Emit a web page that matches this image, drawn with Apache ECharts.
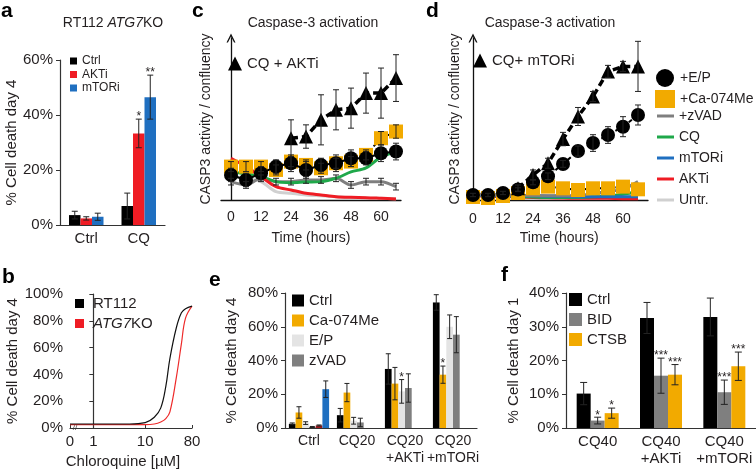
<!DOCTYPE html>
<html><head><meta charset="utf-8">
<script src="https://cdn.jsdelivr.net/npm/echarts@6/dist/echarts.min.js"></script>
<style>html,body{margin:0;padding:0;background:#fff}#c{width:756px;height:473px}</style>
</head><body><div id="c"></div>
<script>
// ---------- Panel a ----------
const aCategories = ['Ctrl', 'CQ'];
const aCtrl = [3.6, 6.9];
const aCtrlErr = [1.4, 4.7];
const aAKTi = [2.4, 33.3];
const aAKTiErr = [0.6, 5.2];
const aMTORi = [3.0, 46.5];
const aMTORiErr = [1.3, 8.0];
const aAKTiStars = ['', '*'];
const aMTORiStars = ['', '**'];

// ---------- Panel b ----------
const bConc = [0, 1, 5, 10, 15, 20, 25, 30, 40, 50, 60, 80];
const bRT112 = [3, 3, 3, 4, 8, 15, 31, 52, 75, 86, 89, 91];
const bATG7KO = [2.5, 2.5, 2.5, 2.5, 3, 4.5, 7, 12, 38, 63, 82, 91];
const bTickConc = [0, 1, 10, 80];
const bTickLabels = ['0', '1', '10', '80'];

// ---------- Panel c ----------
const cdTimes = [0, 6, 12, 18, 24, 30, 36, 42, 48, 54, 60, 66];
const cTickHours = [0, 12, 24, 36, 48, 60];
const cTri = [null, null, null, null, 37, 38, 48, 54, 55, 64, 64, 73];
const cTriErr = [0, 0, 0, 0, 11, 7, 15, 12, 12, 12, 15, 14];
const cEP = [15, 12, 16, 20, 22, 18, 21, 22, 25, 25, 28, 29];
const cEPErr = [4, 4, 4, 4, 5, 5, 4, 5, 5, 4, 5, 5];
const cCa = [20, 20, 20, 18, 23, 21, 19, 22, 23, 27, 37, 41];
const cCaErr = [3, 3, 3, 3, 3, 3, 3, 3, 3, 3, 4, 4];
const cZVAD = [11, 9, 13, 11, 11, 12, 12, 13, 9, 11, 11, 8];
const cZVADErr = [2, 2, 2, 2, 2, 2, 2, 2, 2, 2, 2, 2];
const cCQ = [17, 15.6, 14, 11, 10.4, 10.8, 11, 13, 16.8, 19.2, 25.7, 28.7];
const cAKTi = [25, 20, 14, 8, 6, 4, 3, 2, 1.6, 1.4, 1, 0.6];
const cUntr = [14, 13, 11, 5, 4, 3, 2.5, 2, 1.5, 1.2, 1, 0.8];

// ---------- Panel d ----------
const dTri = [null, null, null, 7, 15, 22, 36.5, 50, 62, 77, 80, 80];
const dTriErr = [0, 0, 0, 2, 3, 3, 4, 5.4, 3, 3.6, 3, 15];
const dEP = [3, 3, 4.2, 6.3, 10.6, 14.2, 21.6, 29.3, 34.1, 38.9, 43.9, 50.9];
const dEPErr = [1, 1, 1, 1, 1.5, 2, 2, 3, 5, 5, 6, 6];
const dCa = [1.8, 1.2, 2.4, 4.2, 7, 8, 7, 6, 7, 7, 8, 6.4];
const dZVAD = [3.5, 3.5, 3, 3, 2.5, 2.5, 2.5, 2.5, 4, 5, 6.5, 11];
const dCQ = [3, 3, 2.5, 2, 1.8, 1.5, 1.5, 1.5, 2, 2.5, 3.5, 5];
const dMTORi = [3, 2.8, 2.5, 2.5, 2.5, 2.3, 2.2, 2, 2, 2, 2, 2];
const dAKTi = [2.5, 2.2, 2, 1.8, 1.5, 1.3, 1.2, 1, 1, 1, 0.8, 0.8];
const dUntr = [3, 3, 3, 2.8, 2.8, 2.6, 2.5, 2.5, 2.5, 2.5, 2.5, 2.5];

// ---------- Panel e ----------
const eCategories = ['Ctrl', 'CQ20', 'CQ20\n+AKTi', 'CQ20\n+mTORi'];
const eCtrl = [2.5, 7.6, 35, 74.4];
const eCtrlErr = [0.5, 4, 9, 4.6];
const eCa = [9.2, 21, 26.3, 31.6];
const eCaErr = [3.4, 5.4, 9.6, 5.1];
const eEP = [2.9, 4.3, 21.7, 60];
const eEPErr = [0.8, 2, 7, 7];
const eZVAD = [0.6, 3.3, 23.7, 55.3];
const eZVADErr = [0.3, 2.5, 8.4, 10.7];
const eAKTi = [1.5, null, null, null];
const eAKTiErr = [0.3, 0, 0, 0];
const eMTORi = [23, null, null, null];
const eMTORiErr = [4.9, 0, 0, 0];
const eCaStars = ['', '', '', '*'];
const eEPStars = ['', '', '*', ''];

// ---------- Panel f ----------
const fCategories = ['CQ40', 'CQ40\n+AKTi', 'CQ40\n+mTORi'];
const fCtrl = [10.2, 32.6, 32.9];
const fCtrlErr = [3.3, 4.6, 5.6];
const fBID = [2.2, 15.5, 10.6];
const fBIDErr = [1.0, 5.2, 3.6];
const fCTSB = [4.4, 15.8, 18.3];
const fCTSBErr = [1.5, 3, 4.2];
const fBIDStars = ['*', '***', '***'];
const fCTSBStars = ['*', '***', '***'];

// ================= styling & builders =================
const FONT = '"Liberation Sans", Arial, Helvetica, sans-serif';
const TXT = '#231f20';
const AX = '#333';
const C = {black:'#000000', red:'#ef1c24', darkred:'#a3191c', blue:'#1f6fc0', gold:'#f2aa00',
           light:'#e4e4e4', gray:'#7f7f7f', green:'#1fa84a', lgray:'#d0d0d0'};
const B_ZERO = -0.45;
const bx = c => c === 0 ? B_ZERO : Math.log10(c);
const strip = n => n.slice(n.indexOf(':') + 1);

function seg(x1, y1, x2, y2) {
  return {type:'line', shape:{x1, y1, x2, y2}, style:{stroke:'#222', lineWidth:1}};
}
function barSer(gi, name, vals, color, barW) {
  return {type:'bar', name, xAxisIndex:gi, yAxisIndex:gi, data:vals, barWidth:barW, barGap:'0%',
          itemStyle:{color}, silent:true, z:2};
}
function barErr(gi, vals, errs, stars, k, n, barW, capW, starSize) {
  const data = [];
  vals.forEach((v, i) => { if (v != null) data.push([i, v, errs[i] || 0]); });
  return {type:'custom', xAxisIndex:gi, yAxisIndex:gi, z:10, silent:true, data,
    renderItem(params, api) {
      const i = api.value(0), v = api.value(1), e = api.value(2);
      const c = api.coord([i, v]);
      const cx = c[0] + (k - (n - 1) / 2) * barW;
      const ch = [];
      let topY = c[1];
      if (e > 0) {
        const t = api.coord([i, v + e])[1], b = api.coord([i, v - e])[1];
        ch.push(seg(cx, t, cx, b), seg(cx - capW / 2, t, cx + capW / 2, t), seg(cx - capW / 2, b, cx + capW / 2, b));
        topY = t;
      }
      const s = stars && stars[i];
      if (s) ch.push({type:'text', x:cx, y:topY + 4,
        style:{text:s, align:'center', verticalAlign:'bottom', fontSize:starSize || 12, fontFamily:FONT, fill:TXT}});
      return {type:'group', children:ch};
    }};
}
function ptErr(gi, times, vals, errs, capW) {
  const data = [];
  vals.forEach((v, i) => { if (v != null && errs[i] > 0) data.push([times[i], v, errs[i]]); });
  return {type:'custom', xAxisIndex:gi, yAxisIndex:gi, z:6, silent:true, data,
    renderItem(params, api) {
      const x = api.value(0), v = api.value(1), e = api.value(2);
      const t = api.coord([x, v + e]), b = api.coord([x, v - e]);
      return {type:'group', children:[seg(t[0], t[1], b[0], b[1]),
        seg(t[0] - capW / 2, t[1], t[0] + capW / 2, t[1]), seg(b[0] - capW / 2, b[1], b[0] + capW / 2, b[1])]};
    }};
}
function lineSer(gi, name, times, vals, color, width, z) {
  return {type:'line', name, xAxisIndex:gi, yAxisIndex:gi, data:times.map((t, i) => [t, vals[i]]),
    showSymbol:false, symbol:'none', smooth:0.3, lineStyle:{color, width}, itemStyle:{color}, z:z || 2, silent:true};
}
function markSer(gi, name, times, vals, symbol, size, color, lineStyle, z) {
  return {type:'line', name, xAxisIndex:gi, yAxisIndex:gi,
    data:times.map((t, i) => vals[i] == null ? null : [t, vals[i]]).filter(d => d),
    symbol, symbolSize:size, showSymbol:true, itemStyle:{color, opacity:1}, lineStyle, z, silent:true};
}
function pctY(gi, max, interval, name, nameGap) {
  return {type:'value', gridIndex:gi, min:0, max, interval,
    axisLine:{show:true, lineStyle:{color:AX, width:1.2}},
    axisTick:{show:true, length:4, lineStyle:{color:AX}},
    axisLabel:{color:TXT, fontSize:15, margin:7, formatter:'{value}%'},
    splitLine:{show:false},
    name, nameLocation:'middle', nameGap, nameRotate:90, nameTextStyle:{color:TXT, fontSize:15}};
}
function catX(gi, cats, fs) {
  return {type:'category', gridIndex:gi, data:cats,
    axisLine:{lineStyle:{color:AX, width:1.2}}, axisTick:{show:false},
    axisLabel:{color:TXT, fontSize:fs || 15, margin:5, lineHeight:17, interval:0}, splitLine:{show:false}};
}
const ARROW = 'path://M0,10 L5,0 L10,10 L8.4,10 L5,3.2 L1.6,10 Z';
function casY(gi) {
  return {type:'value', gridIndex:gi, min:0, max:97,
    axisLine:{show:true, symbol:['none', ARROW], symbolSize:[10, 9], lineStyle:{color:'#111', width:1.3}},
    axisTick:{show:false}, axisLabel:{show:false}, splitLine:{show:false},
    name:'CASP3 activity / confluency', nameLocation:'middle', nameGap:8, nameRotate:90,
    nameTextStyle:{color:TXT, fontSize:14}};
}
function timeX(gi, min, max, margin) {
  return {type:'value', gridIndex:gi, min, max,
    axisLine:{lineStyle:{color:'#111', width:1.3}}, axisTick:{show:false},
    axisLabel:{color:TXT, fontSize:14, margin, customValues:cTickHours}, splitLine:{show:false},
    name:'Time (hours)', nameLocation:'middle', nameGap:31, nameTextStyle:{color:TXT, fontSize:14}};
}

const series = [
  // a
  barSer(0, 'a:Ctrl', aCtrl, C.black, 11.5),
  barSer(0, 'a:AKTi', aAKTi, C.red, 11.5),
  barSer(0, 'a:mTORi', aMTORi, C.blue, 11.5),
  barErr(0, aCtrl, aCtrlErr, null, 0, 3, 11.5, 6),
  barErr(0, aAKTi, aAKTiErr, aAKTiStars, 1, 3, 11.5, 6),
  barErr(0, aMTORi, aMTORiErr, aMTORiStars, 2, 3, 11.5, 6),
  // b
  {type:'line', name:'b:RT112', xAxisIndex:1, yAxisIndex:1, data:bConc.map((c, i) => [bx(c), bRT112[i]]),
   smooth:0.4, showSymbol:false, symbol:'none', lineStyle:{color:'#111', width:1.2}, itemStyle:{color:'#000'}, z:3},
  {type:'line', name:'b:ATG7KO', xAxisIndex:1, yAxisIndex:1, data:bConc.map((c, i) => [bx(c), bATG7KO[i]]),
   smooth:0.4, showSymbol:false, symbol:'none', lineStyle:{color:'#ee2a2a', width:1.2}, itemStyle:{color:'#ee1c24'}, z:2},
  // c
  lineSer(2, 'c:Untr.', cdTimes, cUntr, C.lgray, 3, 2),
  lineSer(2, 'c:+zVAD', cdTimes, cZVAD, C.gray, 3, 2),
  lineSer(2, 'c:CQ', cdTimes, cCQ, C.green, 3, 2),
  lineSer(2, 'c:AKTi', cdTimes, cAKTi, C.red, 3, 2),
  ptErr(2, cdTimes, cZVAD, cZVADErr, 6),
  ptErr(2, cdTimes, cCa, cCaErr, 6),
  ptErr(2, cdTimes, cEP, cEPErr, 6),
  ptErr(2, cdTimes, cTri, cTriErr, 6),
  markSer(2, 'c:+Ca-074Me', cdTimes, cCa, 'rect', 14, C.gold, {color:'#000', width:2, type:[4, 4]}, 3),
  markSer(2, 'c:+E/P', cdTimes, cEP, 'circle', 14, '#000', {color:'#000', width:2}, 5),
  markSer(2, 'c:CQ + AKTi', cdTimes, cTri, 'triangle', 14, '#000', {color:'#000', width:3.5, type:[7, 4]}, 4),
  // d
  lineSer(3, 'd:Untr.', cdTimes, dUntr, C.lgray, 3, 2),
  lineSer(3, 'd:AKTi', cdTimes, dAKTi, C.red, 3, 2),
  lineSer(3, 'd:CQ', cdTimes, dCQ, C.green, 3, 2),
  lineSer(3, 'd:mTORi', cdTimes, dMTORi, C.blue, 3, 2),
  lineSer(3, 'd:+zVAD', cdTimes, dZVAD, C.gray, 3, 2),
  ptErr(3, cdTimes, dEP, dEPErr, 6),
  ptErr(3, cdTimes, dTri, dTriErr, 6),
  markSer(3, 'd:+Ca-074Me', cdTimes, dCa, 'rect', 14, C.gold, {color:'#000', width:2, type:[4, 4]}, 3),
  markSer(3, 'd:CQ+ mTORi', cdTimes, dTri, 'triangle', 14, '#000', {color:'#000', width:3.5, type:[7, 4]}, 4),
  markSer(3, 'd:+E/P', cdTimes, dEP, 'circle', 14, '#000', {color:'#000', width:2, type:[4, 4]}, 5),
  // e
  barSer(4, 'e:Ctrl', eCtrl, C.black, 6.7),
  barSer(4, 'e:Ca-074Me', eCa, C.gold, 6.7),
  barSer(4, 'e:E/P', eEP, C.light, 6.7),
  barSer(4, 'e:zVAD', eZVAD, C.gray, 6.7),
  barSer(4, 'e:AKTi', eAKTi, C.darkred, 6.7),
  barSer(4, 'e:mTORi', eMTORi, C.blue, 6.7),
  barErr(4, eCtrl, eCtrlErr, null, 0, 6, 6.7, 5),
  barErr(4, eCa, eCaErr, eCaStars, 1, 6, 6.7, 5),
  barErr(4, eEP, eEPErr, eEPStars, 2, 6, 6.7, 5),
  barErr(4, eZVAD, eZVADErr, null, 3, 6, 6.7, 5),
  barErr(4, eAKTi, eAKTiErr, null, 4, 6, 6.7, 5),
  barErr(4, eMTORi, eMTORiErr, null, 5, 6, 6.7, 5),
  // f
  barSer(5, 'f:Ctrl', fCtrl, C.black, 14),
  barSer(5, 'f:BID', fBID, C.gray, 14),
  barSer(5, 'f:CTSB', fCTSB, C.gold, 14),
  barErr(5, fCtrl, fCtrlErr, null, 0, 3, 14, 7),
  barErr(5, fBID, fBIDErr, fBIDStars, 1, 3, 14, 7),
  barErr(5, fCTSB, fCTSBErr, fCTSBStars, 2, 3, 14, 7)
];

function leg(extra) {
  return Object.assign({orient:'vertical', selectedMode:false, icon:'rect', formatter:strip, padding:0}, extra);
}
const ts = (size, lh) => ({color:TXT, fontSize:size, fontFamily:FONT, lineHeight:lh || size});
const option = {
  animation:false,
  textStyle:{fontFamily:FONT},
  grid:[
    {left:60, top:60, width:105, height:165},
    {left:70, top:294, width:122, height:134},
    {left:221, top:38, width:180, height:162},
    {left:470.5, top:38, width:177.5, height:162},
    {left:285, top:293, width:192, height:135},
    {left:566, top:293, width:192, height:135}
  ],
  xAxis:[
    catX(0, aCategories, 15),
    {type:'value', gridIndex:1, min:B_ZERO, max:bx(80),
     axisLine:{lineStyle:{color:AX, width:1.2}},
     axisTick:{show:true, inside:true, length:3, customValues:bTickConc.map(bx), lineStyle:{color:AX}},
     axisLabel:{color:TXT, fontSize:15, margin:6, customValues:bTickConc.map(bx),
       formatter:v => { const i = bTickConc.findIndex(c => Math.abs(bx(c) - v) < 1e-6); return i >= 0 ? bTickLabels[i] : ''; }},
     splitLine:{show:false},
     name:'Chloroquine [µM]', nameLocation:'middle', nameGap:26,
     nameTextStyle:{color:TXT, fontSize:15, padding:[0, 16, 0, 0]}},
    timeX(2, -4, 68, 10),
    timeX(3, -1, 70, 12),
    catX(4, eCategories, 14),
    catX(5, fCategories, 15)
  ],
  yAxis:[
    pctY(0, 60, 20, '% Cell death day 4', 38),
    pctY(1, 100, 20, '% Cell death day 4', 46),
    casY(2),
    casY(3),
    pctY(4, 80, 20, '% Cell death day 4', 46),
    pctY(5, 40, 10, '% Cell death day 1', 45)
  ],
  legend:[
    leg({left:70, top:55, itemWidth:7, itemHeight:7, itemGap:1.5,
      data:['a:Ctrl', 'a:AKTi', 'a:mTORi'], textStyle:ts(12)}),
    leg({left:75, top:296, itemWidth:9, itemHeight:9, itemGap:5,
      data:['b:RT112', 'b:ATG7KO'],
      formatter:n => n === 'b:ATG7KO' ? '{i|ATG7}KO' : strip(n),
      textStyle:Object.assign(ts(15, 14), {padding:[0, 0, 0, 4],
        rich:{i:{fontStyle:'italic', fontSize:15, fontFamily:FONT, color:TXT}}})}),
    leg({left:228, top:56, icon:'triangle', itemWidth:14, itemHeight:14,
      data:['c:CQ + AKTi'], textStyle:ts(15)}),
    leg({left:473, top:53, icon:'triangle', itemWidth:14, itemHeight:14,
      data:['d:CQ+ mTORi'], textStyle:ts(15)}),
    leg({left:655, top:69, itemWidth:20, itemHeight:18, itemGap:3,
      data:[{name:'d:+E/P', icon:'circle'}, {name:'d:+Ca-074Me', icon:'rect'}], textStyle:ts(14)}),
    leg({left:657, top:109, itemWidth:17, itemHeight:3, itemGap:7,
      data:['d:+zVAD', 'd:CQ', 'd:mTORi', 'd:AKTi', 'd:Untr.'], textStyle:ts(14)}),
    leg({left:292, top:293, itemWidth:12, itemHeight:12, itemGap:5,
      data:['e:Ctrl', 'e:Ca-074Me', 'e:E/P', 'e:zVAD'], textStyle:ts(15, 14)}),
    leg({left:569, top:292, itemWidth:13, itemHeight:13, itemGap:5,
      data:['f:Ctrl', 'f:BID', 'f:CTSB'], textStyle:ts(15, 14)})
  ],
  graphic:[
    {type:'text', x:1, y:11, style:{text:'a', fontSize:21, fontWeight:'bold', fontFamily:FONT, fill:'#000', verticalAlign:'middle'}},
    {type:'text', x:113, y:23, style:{text:'{n|RT112 }{i|ATG7}{n|KO}', align:'center', verticalAlign:'middle',
      rich:{n:{fontSize:14, fontFamily:FONT, fill:TXT}, i:{fontSize:14, fontFamily:FONT, fontStyle:'italic', fill:TXT}}}},
    {type:'text', x:2, y:277, style:{text:'b', fontSize:21, fontWeight:'bold', fontFamily:FONT, fill:'#000', verticalAlign:'middle'}},
    {type:'text', x:75, y:428, style:{text:'//', fontSize:8, fontFamily:FONT, fill:AX, align:'center', verticalAlign:'middle'}},
    {type:'text', x:192, y:11, style:{text:'c', fontSize:21, fontWeight:'bold', fontFamily:FONT, fill:'#000', verticalAlign:'middle'}},
    {type:'text', x:313, y:23, style:{text:'Caspase-3 activation', fontSize:14, fontFamily:FONT, fill:TXT, align:'center', verticalAlign:'middle'}},
    {type:'text', x:426, y:11, style:{text:'d', fontSize:21, fontWeight:'bold', fontFamily:FONT, fill:'#000', verticalAlign:'middle'}},
    {type:'text', x:550, y:23, style:{text:'Caspase-3 activation', fontSize:14, fontFamily:FONT, fill:TXT, align:'center', verticalAlign:'middle'}},
    {type:'text', x:209, y:280, style:{text:'e', fontSize:21, fontWeight:'bold', fontFamily:FONT, fill:'#000', verticalAlign:'middle'}},
    {type:'text', x:501, y:275, style:{text:'f', fontSize:21, fontWeight:'bold', fontFamily:FONT, fill:'#000', verticalAlign:'middle'}}
  ],
  series
};
const chart = echarts.init(document.getElementById('c'), null, {renderer:'canvas'});
chart.setOption(option);
</script></body></html>
